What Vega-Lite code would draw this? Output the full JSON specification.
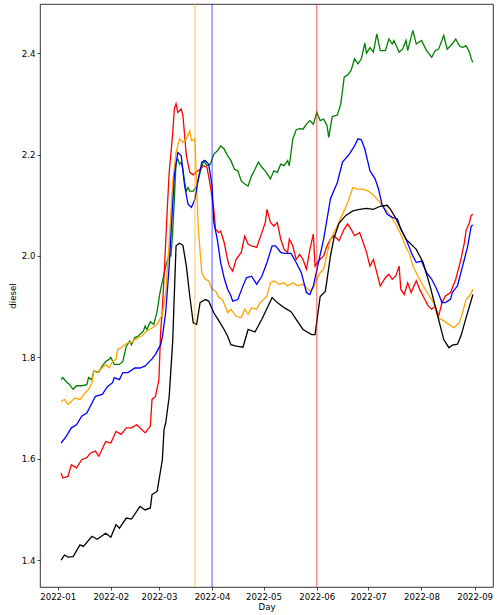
{
"$schema":"https://vega.github.io/schema/vega-lite/v6.json",
"width":453,"height":583,
"autosize":"none",
"padding":{"left":40,"top":4,"right":5,"bottom":28},
"background":"white",
"config":{"view":{"stroke":"black","strokeWidth":0.8},"font":"DejaVu Sans",
"axis":{"labelFont":"DejaVu Sans","titleFont":"DejaVu Sans","labelFontSize":8.6,"titleFontSize":8.6,"titleFontWeight":"normal","labelColor":"black","titleColor":"black","tickColor":"black","tickSize":3,"tickWidth":0.7,"domain":false,"grid":false,"labelPadding":2}},
"datasets":{
"rules":[{"d":"2022-03-22","s":"o"},{"d":"2022-04-01","s":"b"},{"d":"2022-06-01","s":"r"}],
"lines":[
{"s":"g","d":"2022-01-03","v":1.756},{"s":"g","d":"2022-01-04","v":1.760},{"s":"g","d":"2022-01-06","v":1.752},{"s":"g","d":"2022-01-08","v":1.746},{"s":"g","d":"2022-01-10","v":1.737},{"s":"g","d":"2022-01-12","v":1.744},{"s":"g","d":"2022-01-15","v":1.744},{"s":"g","d":"2022-01-18","v":1.746},{"s":"g","d":"2022-01-19","v":1.760},{"s":"g","d":"2022-01-21","v":1.756},{"s":"g","d":"2022-01-22","v":1.773},{"s":"g","d":"2022-01-25","v":1.771},{"s":"g","d":"2022-01-27","v":1.783},{"s":"g","d":"2022-01-29","v":1.792},{"s":"g","d":"2022-01-31","v":1.796},{"s":"g","d":"2022-02-01","v":1.800},{"s":"g","d":"2022-02-03","v":1.786},{"s":"g","d":"2022-02-06","v":1.786},{"s":"g","d":"2022-02-08","v":1.792},{"s":"g","d":"2022-02-10","v":1.822},{"s":"g","d":"2022-02-12","v":1.832},{"s":"g","d":"2022-02-13","v":1.825},{"s":"g","d":"2022-02-15","v":1.839},{"s":"g","d":"2022-02-17","v":1.842},{"s":"g","d":"2022-02-20","v":1.852},{"s":"g","d":"2022-02-21","v":1.862},{"s":"g","d":"2022-02-22","v":1.855},{"s":"g","d":"2022-02-24","v":1.870},{"s":"g","d":"2022-02-26","v":1.865},{"s":"g","d":"2022-02-28","v":1.891},{"s":"g","d":"2022-03-01","v":1.915},{"s":"g","d":"2022-03-02","v":1.934},{"s":"g","d":"2022-03-04","v":1.964},{"s":"g","d":"2022-03-05","v":1.980},{"s":"g","d":"2022-03-07","v":2.003},{"s":"g","d":"2022-03-08","v":2.000},{"s":"g","d":"2022-03-09","v":2.046},{"s":"g","d":"2022-03-10","v":2.112},{"s":"g","d":"2022-03-11","v":2.185},{"s":"g","d":"2022-03-12","v":2.191},{"s":"g","d":"2022-03-13","v":2.181},{"s":"g","d":"2022-03-14","v":2.185},{"s":"g","d":"2022-03-15","v":2.171},{"s":"g","d":"2022-03-16","v":2.145},{"s":"g","d":"2022-03-17","v":2.128},{"s":"g","d":"2022-03-18","v":2.135},{"s":"g","d":"2022-03-19","v":2.128},{"s":"g","d":"2022-03-21","v":2.128},{"s":"g","d":"2022-03-23","v":2.138},{"s":"g","d":"2022-03-25","v":2.165},{"s":"g","d":"2022-03-27","v":2.188},{"s":"g","d":"2022-03-29","v":2.178},{"s":"g","d":"2022-03-31","v":2.181},{"s":"g","d":"2022-04-02","v":2.201},{"s":"g","d":"2022-04-04","v":2.207},{"s":"g","d":"2022-04-06","v":2.217},{"s":"g","d":"2022-04-08","v":2.211},{"s":"g","d":"2022-04-10","v":2.198},{"s":"g","d":"2022-04-12","v":2.188},{"s":"g","d":"2022-04-14","v":2.171},{"s":"g","d":"2022-04-16","v":2.168},{"s":"g","d":"2022-04-18","v":2.148},{"s":"g","d":"2022-04-20","v":2.142},{"s":"g","d":"2022-04-22","v":2.138},{"s":"g","d":"2022-04-24","v":2.158},{"s":"g","d":"2022-04-26","v":2.171},{"s":"g","d":"2022-04-28","v":2.185},{"s":"g","d":"2022-04-30","v":2.175},{"s":"g","d":"2022-05-02","v":2.168},{"s":"g","d":"2022-05-05","v":2.152},{"s":"g","d":"2022-05-07","v":2.168},{"s":"g","d":"2022-05-09","v":2.165},{"s":"g","d":"2022-05-11","v":2.181},{"s":"g","d":"2022-05-13","v":2.178},{"s":"g","d":"2022-05-15","v":2.188},{"s":"g","d":"2022-05-16","v":2.178},{"s":"g","d":"2022-05-18","v":2.230},{"s":"g","d":"2022-05-20","v":2.249},{"s":"g","d":"2022-05-22","v":2.251},{"s":"g","d":"2022-05-24","v":2.250},{"s":"g","d":"2022-05-26","v":2.260},{"s":"g","d":"2022-05-28","v":2.267},{"s":"g","d":"2022-05-30","v":2.260},{"s":"g","d":"2022-06-01","v":2.283},{"s":"g","d":"2022-06-03","v":2.267},{"s":"g","d":"2022-06-05","v":2.270},{"s":"g","d":"2022-06-07","v":2.257},{"s":"g","d":"2022-06-08","v":2.234},{"s":"g","d":"2022-06-10","v":2.275},{"s":"g","d":"2022-06-13","v":2.278},{"s":"g","d":"2022-06-15","v":2.300},{"s":"g","d":"2022-06-17","v":2.353},{"s":"g","d":"2022-06-19","v":2.357},{"s":"g","d":"2022-06-21","v":2.366},{"s":"g","d":"2022-06-23","v":2.389},{"s":"g","d":"2022-06-25","v":2.379},{"s":"g","d":"2022-06-27","v":2.389},{"s":"g","d":"2022-06-29","v":2.420},{"s":"g","d":"2022-06-30","v":2.400},{"s":"g","d":"2022-07-02","v":2.411},{"s":"g","d":"2022-07-04","v":2.402},{"s":"g","d":"2022-07-06","v":2.438},{"s":"g","d":"2022-07-08","v":2.405},{"s":"g","d":"2022-07-11","v":2.405},{"s":"g","d":"2022-07-13","v":2.428},{"s":"g","d":"2022-07-15","v":2.418},{"s":"g","d":"2022-07-16","v":2.425},{"s":"g","d":"2022-07-19","v":2.402},{"s":"g","d":"2022-07-21","v":2.408},{"s":"g","d":"2022-07-23","v":2.425},{"s":"g","d":"2022-07-24","v":2.405},{"s":"g","d":"2022-07-27","v":2.445},{"s":"g","d":"2022-07-29","v":2.418},{"s":"g","d":"2022-08-01","v":2.425},{"s":"g","d":"2022-08-04","v":2.405},{"s":"g","d":"2022-08-07","v":2.392},{"s":"g","d":"2022-08-09","v":2.405},{"s":"g","d":"2022-08-11","v":2.408},{"s":"g","d":"2022-08-14","v":2.435},{"s":"g","d":"2022-08-16","v":2.408},{"s":"g","d":"2022-08-19","v":2.418},{"s":"g","d":"2022-08-21","v":2.428},{"s":"g","d":"2022-08-23","v":2.415},{"s":"g","d":"2022-08-25","v":2.411},{"s":"g","d":"2022-08-27","v":2.415},{"s":"g","d":"2022-08-29","v":2.402},{"s":"g","d":"2022-08-30","v":2.389},{"s":"g","d":"2022-08-31","v":2.382},
{"s":"r","d":"2022-01-03","v":1.572},{"s":"r","d":"2022-01-04","v":1.562},{"s":"r","d":"2022-01-07","v":1.565},{"s":"r","d":"2022-01-09","v":1.588},{"s":"r","d":"2022-01-12","v":1.582},{"s":"r","d":"2022-01-15","v":1.598},{"s":"r","d":"2022-01-18","v":1.602},{"s":"r","d":"2022-01-20","v":1.611},{"s":"r","d":"2022-01-23","v":1.615},{"s":"r","d":"2022-01-25","v":1.605},{"s":"r","d":"2022-01-29","v":1.634},{"s":"r","d":"2022-02-01","v":1.631},{"s":"r","d":"2022-02-04","v":1.654},{"s":"r","d":"2022-02-07","v":1.648},{"s":"r","d":"2022-02-10","v":1.661},{"s":"r","d":"2022-02-13","v":1.661},{"s":"r","d":"2022-02-16","v":1.667},{"s":"r","d":"2022-02-18","v":1.661},{"s":"r","d":"2022-02-21","v":1.651},{"s":"r","d":"2022-02-24","v":1.664},{"s":"r","d":"2022-02-25","v":1.717},{"s":"r","d":"2022-02-27","v":1.723},{"s":"r","d":"2022-03-01","v":1.756},{"s":"r","d":"2022-03-02","v":1.849},{"s":"r","d":"2022-03-03","v":1.895},{"s":"r","d":"2022-03-04","v":1.960},{"s":"r","d":"2022-03-05","v":2.030},{"s":"r","d":"2022-03-06","v":2.100},{"s":"r","d":"2022-03-07","v":2.165},{"s":"r","d":"2022-03-09","v":2.240},{"s":"r","d":"2022-03-10","v":2.290},{"s":"r","d":"2022-03-11","v":2.300},{"s":"r","d":"2022-03-12","v":2.283},{"s":"r","d":"2022-03-14","v":2.290},{"s":"r","d":"2022-03-15","v":2.277},{"s":"r","d":"2022-03-17","v":2.198},{"s":"r","d":"2022-03-19","v":2.165},{"s":"r","d":"2022-03-21","v":2.160},{"s":"r","d":"2022-03-23","v":2.166},{"s":"r","d":"2022-03-25","v":2.171},{"s":"r","d":"2022-03-27","v":2.178},{"s":"r","d":"2022-03-29","v":2.175},{"s":"r","d":"2022-03-31","v":2.138},{"s":"r","d":"2022-04-02","v":2.092},{"s":"r","d":"2022-04-03","v":2.053},{"s":"r","d":"2022-04-05","v":2.046},{"s":"r","d":"2022-04-06","v":2.049},{"s":"r","d":"2022-04-08","v":2.027},{"s":"r","d":"2022-04-10","v":1.993},{"s":"r","d":"2022-04-11","v":1.980},{"s":"r","d":"2022-04-13","v":1.970},{"s":"r","d":"2022-04-15","v":1.993},{"s":"r","d":"2022-04-18","v":2.007},{"s":"r","d":"2022-04-20","v":2.039},{"s":"r","d":"2022-04-22","v":2.023},{"s":"r","d":"2022-04-24","v":2.020},{"s":"r","d":"2022-04-27","v":2.017},{"s":"r","d":"2022-04-30","v":2.046},{"s":"r","d":"2022-05-02","v":2.066},{"s":"r","d":"2022-05-03","v":2.092},{"s":"r","d":"2022-05-05","v":2.066},{"s":"r","d":"2022-05-07","v":2.059},{"s":"r","d":"2022-05-09","v":2.066},{"s":"r","d":"2022-05-11","v":2.033},{"s":"r","d":"2022-05-13","v":2.013},{"s":"r","d":"2022-05-15","v":2.007},{"s":"r","d":"2022-05-16","v":2.033},{"s":"r","d":"2022-05-18","v":2.020},{"s":"r","d":"2022-05-20","v":1.993},{"s":"r","d":"2022-05-22","v":2.003},{"s":"r","d":"2022-05-24","v":1.993},{"s":"r","d":"2022-05-26","v":1.974},{"s":"r","d":"2022-05-28","v":2.013},{"s":"r","d":"2022-05-30","v":2.043},{"s":"r","d":"2022-05-31","v":1.980},{"s":"r","d":"2022-06-02","v":1.990},{"s":"r","d":"2022-06-05","v":2.000},{"s":"r","d":"2022-06-07","v":2.020},{"s":"r","d":"2022-06-09","v":2.033},{"s":"r","d":"2022-06-11","v":2.040},{"s":"r","d":"2022-06-14","v":2.030},{"s":"r","d":"2022-06-17","v":2.053},{"s":"r","d":"2022-06-19","v":2.063},{"s":"r","d":"2022-06-21","v":2.053},{"s":"r","d":"2022-06-23","v":2.040},{"s":"r","d":"2022-06-26","v":2.046},{"s":"r","d":"2022-06-28","v":2.027},{"s":"r","d":"2022-06-30","v":2.007},{"s":"r","d":"2022-07-02","v":1.980},{"s":"r","d":"2022-07-04","v":1.993},{"s":"r","d":"2022-07-06","v":1.967},{"s":"r","d":"2022-07-08","v":1.941},{"s":"r","d":"2022-07-11","v":1.957},{"s":"r","d":"2022-07-13","v":1.964},{"s":"r","d":"2022-07-15","v":1.954},{"s":"r","d":"2022-07-17","v":1.960},{"s":"r","d":"2022-07-19","v":1.980},{"s":"r","d":"2022-07-20","v":1.934},{"s":"r","d":"2022-07-22","v":1.924},{"s":"r","d":"2022-07-24","v":1.947},{"s":"r","d":"2022-07-26","v":1.928},{"s":"r","d":"2022-07-29","v":1.951},{"s":"r","d":"2022-07-31","v":1.934},{"s":"r","d":"2022-08-03","v":1.914},{"s":"r","d":"2022-08-05","v":1.901},{"s":"r","d":"2022-08-07","v":1.895},{"s":"r","d":"2022-08-09","v":1.901},{"s":"r","d":"2022-08-11","v":1.881},{"s":"r","d":"2022-08-13","v":1.908},{"s":"r","d":"2022-08-15","v":1.921},{"s":"r","d":"2022-08-18","v":1.928},{"s":"r","d":"2022-08-21","v":1.954},{"s":"r","d":"2022-08-22","v":1.967},{"s":"r","d":"2022-08-24","v":1.993},{"s":"r","d":"2022-08-26","v":2.026},{"s":"r","d":"2022-08-27","v":2.050},{"s":"r","d":"2022-08-29","v":2.066},{"s":"r","d":"2022-08-30","v":2.080},{"s":"r","d":"2022-08-31","v":2.082},
{"s":"o","d":"2022-01-03","v":1.713},{"s":"o","d":"2022-01-05","v":1.717},{"s":"o","d":"2022-01-07","v":1.707},{"s":"o","d":"2022-01-09","v":1.713},{"s":"o","d":"2022-01-11","v":1.720},{"s":"o","d":"2022-01-14","v":1.717},{"s":"o","d":"2022-01-17","v":1.730},{"s":"o","d":"2022-01-19","v":1.737},{"s":"o","d":"2022-01-21","v":1.750},{"s":"o","d":"2022-01-22","v":1.773},{"s":"o","d":"2022-01-24","v":1.770},{"s":"o","d":"2022-01-26","v":1.776},{"s":"o","d":"2022-01-28","v":1.783},{"s":"o","d":"2022-01-29","v":1.786},{"s":"o","d":"2022-01-31","v":1.779},{"s":"o","d":"2022-02-02","v":1.792},{"s":"o","d":"2022-02-04","v":1.796},{"s":"o","d":"2022-02-05","v":1.816},{"s":"o","d":"2022-02-07","v":1.819},{"s":"o","d":"2022-02-09","v":1.825},{"s":"o","d":"2022-02-11","v":1.829},{"s":"o","d":"2022-02-13","v":1.829},{"s":"o","d":"2022-02-15","v":1.835},{"s":"o","d":"2022-02-17","v":1.839},{"s":"o","d":"2022-02-19","v":1.842},{"s":"o","d":"2022-02-22","v":1.852},{"s":"o","d":"2022-02-25","v":1.858},{"s":"o","d":"2022-02-28","v":1.865},{"s":"o","d":"2022-03-03","v":1.885},{"s":"o","d":"2022-03-05","v":1.928},{"s":"o","d":"2022-03-07","v":2.027},{"s":"o","d":"2022-03-09","v":2.145},{"s":"o","d":"2022-03-11","v":2.204},{"s":"o","d":"2022-03-13","v":2.231},{"s":"o","d":"2022-03-15","v":2.224},{"s":"o","d":"2022-03-17","v":2.231},{"s":"o","d":"2022-03-19","v":2.247},{"s":"o","d":"2022-03-20","v":2.227},{"s":"o","d":"2022-03-22","v":2.231},{"s":"o","d":"2022-03-23","v":2.133},{"s":"o","d":"2022-03-24","v":2.053},{"s":"o","d":"2022-03-26","v":1.967},{"s":"o","d":"2022-03-28","v":1.954},{"s":"o","d":"2022-03-30","v":1.951},{"s":"o","d":"2022-04-01","v":1.934},{"s":"o","d":"2022-04-03","v":1.931},{"s":"o","d":"2022-04-05","v":1.918},{"s":"o","d":"2022-04-07","v":1.914},{"s":"o","d":"2022-04-09","v":1.898},{"s":"o","d":"2022-04-10","v":1.888},{"s":"o","d":"2022-04-12","v":1.895},{"s":"o","d":"2022-04-15","v":1.881},{"s":"o","d":"2022-04-18","v":1.878},{"s":"o","d":"2022-04-20","v":1.895},{"s":"o","d":"2022-04-22","v":1.885},{"s":"o","d":"2022-04-24","v":1.898},{"s":"o","d":"2022-04-27","v":1.895},{"s":"o","d":"2022-04-29","v":1.908},{"s":"o","d":"2022-05-01","v":1.914},{"s":"o","d":"2022-05-03","v":1.921},{"s":"o","d":"2022-05-05","v":1.947},{"s":"o","d":"2022-05-07","v":1.951},{"s":"o","d":"2022-05-10","v":1.944},{"s":"o","d":"2022-05-13","v":1.947},{"s":"o","d":"2022-05-15","v":1.941},{"s":"o","d":"2022-05-18","v":1.947},{"s":"o","d":"2022-05-21","v":1.941},{"s":"o","d":"2022-05-24","v":1.944},{"s":"o","d":"2022-05-26","v":1.937},{"s":"o","d":"2022-05-28","v":1.931},{"s":"o","d":"2022-05-30","v":1.937},{"s":"o","d":"2022-06-01","v":1.954},{"s":"o","d":"2022-06-03","v":1.967},{"s":"o","d":"2022-06-05","v":1.974},{"s":"o","d":"2022-06-09","v":2.033},{"s":"o","d":"2022-06-13","v":2.059},{"s":"o","d":"2022-06-16","v":2.082},{"s":"o","d":"2022-06-19","v":2.105},{"s":"o","d":"2022-06-22","v":2.135},{"s":"o","d":"2022-06-25","v":2.132},{"s":"o","d":"2022-06-28","v":2.132},{"s":"o","d":"2022-07-01","v":2.128},{"s":"o","d":"2022-07-04","v":2.120},{"s":"o","d":"2022-07-07","v":2.109},{"s":"o","d":"2022-07-10","v":2.096},{"s":"o","d":"2022-07-14","v":2.079},{"s":"o","d":"2022-07-17","v":2.063},{"s":"o","d":"2022-07-20","v":2.043},{"s":"o","d":"2022-07-23","v":2.017},{"s":"o","d":"2022-07-25","v":2.005},{"s":"o","d":"2022-07-27","v":1.980},{"s":"o","d":"2022-07-30","v":1.960},{"s":"o","d":"2022-08-02","v":1.941},{"s":"o","d":"2022-08-05","v":1.924},{"s":"o","d":"2022-08-08","v":1.908},{"s":"o","d":"2022-08-11","v":1.878},{"s":"o","d":"2022-08-14","v":1.872},{"s":"o","d":"2022-08-17","v":1.865},{"s":"o","d":"2022-08-20","v":1.858},{"s":"o","d":"2022-08-21","v":1.862},{"s":"o","d":"2022-08-23","v":1.868},{"s":"o","d":"2022-08-25","v":1.888},{"s":"o","d":"2022-08-27","v":1.914},{"s":"o","d":"2022-08-29","v":1.921},{"s":"o","d":"2022-08-31","v":1.934},
{"s":"b","d":"2022-01-03","v":1.631},{"s":"b","d":"2022-01-06","v":1.644},{"s":"b","d":"2022-01-09","v":1.661},{"s":"b","d":"2022-01-12","v":1.667},{"s":"b","d":"2022-01-15","v":1.684},{"s":"b","d":"2022-01-18","v":1.690},{"s":"b","d":"2022-01-21","v":1.710},{"s":"b","d":"2022-01-23","v":1.723},{"s":"b","d":"2022-01-27","v":1.727},{"s":"b","d":"2022-01-30","v":1.742},{"s":"b","d":"2022-02-02","v":1.750},{"s":"b","d":"2022-02-03","v":1.760},{"s":"b","d":"2022-02-06","v":1.756},{"s":"b","d":"2022-02-08","v":1.770},{"s":"b","d":"2022-02-11","v":1.770},{"s":"b","d":"2022-02-15","v":1.779},{"s":"b","d":"2022-02-18","v":1.779},{"s":"b","d":"2022-02-21","v":1.783},{"s":"b","d":"2022-02-25","v":1.797},{"s":"b","d":"2022-02-27","v":1.806},{"s":"b","d":"2022-03-02","v":1.825},{"s":"b","d":"2022-03-03","v":1.840},{"s":"b","d":"2022-03-05","v":1.890},{"s":"b","d":"2022-03-07","v":1.980},{"s":"b","d":"2022-03-09","v":2.100},{"s":"b","d":"2022-03-10","v":2.158},{"s":"b","d":"2022-03-12","v":2.204},{"s":"b","d":"2022-03-14","v":2.198},{"s":"b","d":"2022-03-16","v":2.138},{"s":"b","d":"2022-03-18","v":2.102},{"s":"b","d":"2022-03-20","v":2.096},{"s":"b","d":"2022-03-22","v":2.112},{"s":"b","d":"2022-03-24","v":2.152},{"s":"b","d":"2022-03-26","v":2.185},{"s":"b","d":"2022-03-28","v":2.188},{"s":"b","d":"2022-03-30","v":2.181},{"s":"b","d":"2022-04-01","v":2.138},{"s":"b","d":"2022-04-02","v":2.066},{"s":"b","d":"2022-04-04","v":2.033},{"s":"b","d":"2022-04-06","v":1.987},{"s":"b","d":"2022-04-08","v":1.957},{"s":"b","d":"2022-04-10","v":1.935},{"s":"b","d":"2022-04-12","v":1.921},{"s":"b","d":"2022-04-13","v":1.911},{"s":"b","d":"2022-04-16","v":1.914},{"s":"b","d":"2022-04-19","v":1.941},{"s":"b","d":"2022-04-21","v":1.957},{"s":"b","d":"2022-04-24","v":1.960},{"s":"b","d":"2022-04-27","v":1.944},{"s":"b","d":"2022-04-30","v":1.960},{"s":"b","d":"2022-05-03","v":1.987},{"s":"b","d":"2022-05-06","v":2.020},{"s":"b","d":"2022-05-08","v":2.020},{"s":"b","d":"2022-05-11","v":2.007},{"s":"b","d":"2022-05-13","v":2.005},{"s":"b","d":"2022-05-17","v":2.005},{"s":"b","d":"2022-05-20","v":1.987},{"s":"b","d":"2022-05-23","v":1.967},{"s":"b","d":"2022-05-26","v":1.928},{"s":"b","d":"2022-05-28","v":1.924},{"s":"b","d":"2022-05-30","v":1.941},{"s":"b","d":"2022-06-02","v":1.987},{"s":"b","d":"2022-06-05","v":2.033},{"s":"b","d":"2022-06-06","v":2.053},{"s":"b","d":"2022-06-09","v":2.113},{"s":"b","d":"2022-06-13","v":2.145},{"s":"b","d":"2022-06-16","v":2.185},{"s":"b","d":"2022-06-20","v":2.201},{"s":"b","d":"2022-06-23","v":2.217},{"s":"b","d":"2022-06-25","v":2.231},{"s":"b","d":"2022-06-27","v":2.229},{"s":"b","d":"2022-06-29","v":2.211},{"s":"b","d":"2022-07-02","v":2.168},{"s":"b","d":"2022-07-05","v":2.152},{"s":"b","d":"2022-07-07","v":2.132},{"s":"b","d":"2022-07-09","v":2.102},{"s":"b","d":"2022-07-12","v":2.082},{"s":"b","d":"2022-07-15","v":2.076},{"s":"b","d":"2022-07-18","v":2.073},{"s":"b","d":"2022-07-20","v":2.053},{"s":"b","d":"2022-07-23","v":2.033},{"s":"b","d":"2022-07-27","v":2.000},{"s":"b","d":"2022-07-29","v":1.987},{"s":"b","d":"2022-08-01","v":1.990},{"s":"b","d":"2022-08-04","v":1.967},{"s":"b","d":"2022-08-07","v":1.954},{"s":"b","d":"2022-08-10","v":1.934},{"s":"b","d":"2022-08-13","v":1.908},{"s":"b","d":"2022-08-15","v":1.908},{"s":"b","d":"2022-08-18","v":1.915},{"s":"b","d":"2022-08-19","v":1.928},{"s":"b","d":"2022-08-22","v":1.941},{"s":"b","d":"2022-08-24","v":1.967},{"s":"b","d":"2022-08-26","v":1.993},{"s":"b","d":"2022-08-28","v":2.020},{"s":"b","d":"2022-08-30","v":2.059},{"s":"b","d":"2022-08-31","v":2.061},
{"s":"k","d":"2022-01-03","v":1.400},{"s":"k","d":"2022-01-05","v":1.410},{"s":"k","d":"2022-01-07","v":1.406},{"s":"k","d":"2022-01-10","v":1.407},{"s":"k","d":"2022-01-14","v":1.430},{"s":"k","d":"2022-01-16","v":1.427},{"s":"k","d":"2022-01-21","v":1.447},{"s":"k","d":"2022-01-24","v":1.441},{"s":"k","d":"2022-01-29","v":1.453},{"s":"k","d":"2022-02-01","v":1.445},{"s":"k","d":"2022-02-04","v":1.470},{"s":"k","d":"2022-02-06","v":1.463},{"s":"k","d":"2022-02-10","v":1.483},{"s":"k","d":"2022-02-13","v":1.481},{"s":"k","d":"2022-02-18","v":1.506},{"s":"k","d":"2022-02-21","v":1.499},{"s":"k","d":"2022-02-24","v":1.503},{"s":"k","d":"2022-02-25","v":1.529},{"s":"k","d":"2022-02-28","v":1.536},{"s":"k","d":"2022-03-03","v":1.598},{"s":"k","d":"2022-03-04","v":1.658},{"s":"k","d":"2022-03-05","v":1.671},{"s":"k","d":"2022-03-07","v":1.723},{"s":"k","d":"2022-03-09","v":1.829},{"s":"k","d":"2022-03-11","v":2.020},{"s":"k","d":"2022-03-13","v":2.025},{"s":"k","d":"2022-03-15","v":2.021},{"s":"k","d":"2022-03-17","v":1.980},{"s":"k","d":"2022-03-19","v":1.921},{"s":"k","d":"2022-03-21","v":1.868},{"s":"k","d":"2022-03-23","v":1.865},{"s":"k","d":"2022-03-25","v":1.908},{"s":"k","d":"2022-03-28","v":1.914},{"s":"k","d":"2022-03-30","v":1.911},{"s":"k","d":"2022-04-02","v":1.888},{"s":"k","d":"2022-04-05","v":1.872},{"s":"k","d":"2022-04-08","v":1.855},{"s":"k","d":"2022-04-10","v":1.842},{"s":"k","d":"2022-04-12","v":1.825},{"s":"k","d":"2022-04-15","v":1.822},{"s":"k","d":"2022-04-19","v":1.820},{"s":"k","d":"2022-04-22","v":1.855},{"s":"k","d":"2022-04-26","v":1.850},{"s":"k","d":"2022-04-30","v":1.875},{"s":"k","d":"2022-05-06","v":1.918},{"s":"k","d":"2022-05-09","v":1.908},{"s":"k","d":"2022-05-13","v":1.898},{"s":"k","d":"2022-05-17","v":1.890},{"s":"k","d":"2022-05-20","v":1.875},{"s":"k","d":"2022-05-24","v":1.855},{"s":"k","d":"2022-05-29","v":1.845},{"s":"k","d":"2022-05-31","v":1.845},{"s":"k","d":"2022-06-03","v":1.920},{"s":"k","d":"2022-06-06","v":1.930},{"s":"k","d":"2022-06-09","v":2.000},{"s":"k","d":"2022-06-11","v":2.035},{"s":"k","d":"2022-06-14","v":2.065},{"s":"k","d":"2022-06-18","v":2.080},{"s":"k","d":"2022-06-22","v":2.089},{"s":"k","d":"2022-06-26","v":2.092},{"s":"k","d":"2022-06-30","v":2.094},{"s":"k","d":"2022-07-04","v":2.092},{"s":"k","d":"2022-07-08","v":2.098},{"s":"k","d":"2022-07-12","v":2.100},{"s":"k","d":"2022-07-14","v":2.092},{"s":"k","d":"2022-07-17","v":2.075},{"s":"k","d":"2022-07-20","v":2.053},{"s":"k","d":"2022-07-23","v":2.033},{"s":"k","d":"2022-07-29","v":2.013},{"s":"k","d":"2022-08-02","v":1.987},{"s":"k","d":"2022-08-06","v":1.941},{"s":"k","d":"2022-08-10","v":1.888},{"s":"k","d":"2022-08-14","v":1.835},{"s":"k","d":"2022-08-17","v":1.819},{"s":"k","d":"2022-08-19","v":1.824},{"s":"k","d":"2022-08-22","v":1.826},{"s":"k","d":"2022-08-24","v":1.842},{"s":"k","d":"2022-08-27","v":1.878},{"s":"k","d":"2022-08-31","v":1.924}
]},
"layer":[
{"data":{"name":"lines"},
 "mark":{"type":"line","strokeWidth":1.3},
 "encoding":{
  "x":{"field":"d","type":"temporal",
   "scale":{"type":"utc","domain":[{"year":2021,"month":12,"date":21,"hours":17,"utc":true},{"year":2022,"month":9,"date":11,"hours":17,"utc":true}]},
   "axis":{"title":"Day","format":"%Y-%m","labelAngle":0,"titlePadding":2,"labelFlush":false,
    "values":[{"year":2022,"month":1,"date":1,"utc":true},{"year":2022,"month":2,"date":1,"utc":true},{"year":2022,"month":3,"date":1,"utc":true},{"year":2022,"month":4,"date":1,"utc":true},{"year":2022,"month":5,"date":1,"utc":true},{"year":2022,"month":6,"date":1,"utc":true},{"year":2022,"month":7,"date":1,"utc":true},{"year":2022,"month":8,"date":1,"utc":true},{"year":2022,"month":9,"date":1,"utc":true}]}},
  "y":{"field":"v","type":"quantitative",
   "scale":{"domain":[1.347,2.497],"nice":false,"zero":false},
   "axis":{"title":"diesel","values":[1.4,1.6,1.8,2.0,2.2,2.4],"format":".1f","titlePadding":4}},
  "color":{"field":"s","type":"nominal","scale":{"domain":["g","r","o","b","k"],"range":["green","red","orange","blue","black"]},"legend":null}
 }},
{"data":{"name":"rules"},
 "mark":{"type":"rule","strokeWidth":1.3,"opacity":0.5},
 "encoding":{
  "x":{"field":"d","type":"temporal"},
  "color":{"field":"s","type":"nominal"}
 }}
]
}
